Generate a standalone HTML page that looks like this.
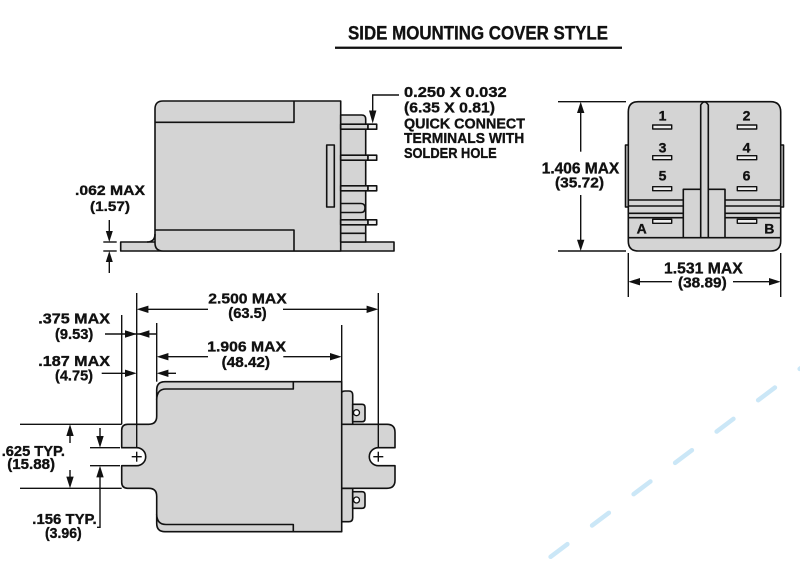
<!DOCTYPE html>
<html><head><meta charset="utf-8"><style>
html,body{margin:0;padding:0;background:#fff;}
svg{display:block;}
text{font-family:"Liberation Sans",Arial,sans-serif;font-weight:bold;fill:#111;stroke:#111;stroke-width:0.35px;}
</style></head><body>
<svg width="800" height="567" viewBox="0 0 800 567" xmlns="http://www.w3.org/2000/svg">
<!-- light blue dashed line -->
<line x1="550.6" y1="556.8" x2="830" y2="346" stroke="#cbe7f7" stroke-width="4.5" stroke-linecap="round" stroke-dasharray="21 31"/>

<!-- Title -->
<text x="348" y="39.3" font-size="19.5" textLength="260" lengthAdjust="spacingAndGlyphs">SIDE MOUNTING COVER STYLE</text>
<rect x="335" y="46.6" width="287" height="2.3" fill="#111"/>

<g stroke="#111" stroke-width="1.6" fill="#d4d4d4" stroke-linejoin="round">
<!-- ===== Side view (top-left) ===== -->
<rect x="120.7" y="242" width="273.3" height="9"/>
<path d="M155,109 Q155,101 163,101 L340.7,101 L340.7,251 L163,251 Q155,251 155,243 Z"/>
<path d="M147,242 Q155,242 155,234" fill="none"/>
<polyline points="155,122.3 294,122.3 294,101" fill="none"/>
<polyline points="155,230 294,230 294,251" fill="none"/>
<rect x="326.7" y="145" width="7.6" height="62"/>
<path d="M340.7,115 L361.7,115 Q365.7,115 365.7,119 L365.7,242 L340.7,242 Z"/>
<line x1="340.7" y1="233.3" x2="365.7" y2="233.3"/>
<path d="M340.7,203.5 L361,203.5 Q365,203.5 365,208 Q365,212.5 361,212.5 L340.7,212.5" fill="none"/>
<rect x="340.7" y="124.2" width="27.3" height="5"/>
<rect x="368" y="124.2" width="8.7" height="5" fill="#eeeeee"/>
<rect x="340.7" y="155.2" width="27.3" height="5"/>
<rect x="368" y="155.2" width="8.7" height="5" fill="#eeeeee"/>
<rect x="340.7" y="185.8" width="27.3" height="5"/>
<rect x="368" y="185.8" width="8.7" height="5" fill="#eeeeee"/>
<rect x="340.7" y="219.8" width="27.3" height="5"/>
<rect x="368" y="219.8" width="8.7" height="5" fill="#eeeeee"/>

<!-- ===== End view (top-right) ===== -->
<rect x="625.5" y="145" width="3.5" height="62"/>
<rect x="780" y="145" width="3.5" height="62"/>
<path d="M628.3,112 Q628.3,101.7 638.3,101.7 L770.7,101.7 Q780.7,101.7 780.7,112 L780.7,241 Q780.7,251 770.7,251 L638.3,251 Q628.3,251 628.3,241 Z"/>
<line x1="628.3" y1="237.7" x2="780.7" y2="237.7"/>
<g fill="none">
<line x1="628.3" y1="200" x2="683.3" y2="200"/><line x1="628.3" y1="206" x2="683.3" y2="206"/>
<line x1="628.3" y1="213.3" x2="683.3" y2="213.3"/><line x1="628.3" y1="217.7" x2="683.3" y2="217.7"/>
<line x1="725" y1="200" x2="780.7" y2="200"/><line x1="725" y1="206" x2="780.7" y2="206"/>
<line x1="725" y1="213.3" x2="780.7" y2="213.3"/><line x1="725" y1="217.7" x2="780.7" y2="217.7"/>
</g>
<rect x="683.3" y="189.3" width="41.7" height="48.4"/>
<path d="M700.7,237.7 L700.7,105 Q704.5,99 708.3,105 L708.3,237.7 Z"/>
<g fill="#eeeeee" stroke-width="1.4">
<rect x="652.7" y="125" width="19" height="4"/><rect x="652.7" y="155.7" width="19" height="4"/>
<rect x="652.7" y="186.7" width="19" height="4"/><rect x="652.7" y="219.3" width="19" height="4"/>
<rect x="737.3" y="125" width="19.4" height="4"/><rect x="737.3" y="155.7" width="19.4" height="4"/>
<rect x="737.3" y="186.7" width="19.4" height="4"/><rect x="737.3" y="219.3" width="19.4" height="4"/>
</g>

<!-- ===== Bottom view ===== -->
<path d="M341,424.3 L341,395 Q341,391 345,391 L349,391 Q352.7,391 352.7,395 L352.7,424.3 Z"/>
<path d="M341,488.3 L352.7,488.3 L352.7,517.7 Q352.7,521.7 348.7,521.7 L341,521.7 Z"/>
<path d="M352.7,404.3 L362,404.3 Q365,404.3 365,407.3 L365,418.7 Q365,421.7 362,421.7 L352.7,421.7 Z"/>
<path d="M352.7,491.7 L362,491.7 Q365,491.7 365,494.7 L365,505.3 Q365,508.3 362,508.3 L352.7,508.3 Z"/>
<circle cx="356.5" cy="412.7" r="3" fill="#fff" stroke-width="1.3"/>
<circle cx="356.5" cy="500" r="3" fill="#fff" stroke-width="1.3"/>
<path d="M341.7,424.3 L387,424.3 Q395,424.3 395,432.3 L395,447.7 L378.3,447.7 A9,9 0 0 0 378.3,465.7 L395,465.7 L395,480.3 Q395,488.3 387,488.3 L341.7,488.3 Z"/>
<path d="M165,381.7 L341.7,381.7 L341.7,531.7 L165,531.7 Q156.7,531.7 156.7,523.4 L156.7,496.3 Q156.7,488.3 148.7,488.3 L127.7,488.3 Q121.7,488.3 121.7,482.3 L121.7,465.7 L136.7,465.7 A9,9 0 0 0 136.7,447.7 L121.7,447.7 L121.7,430.3 Q121.7,424.3 127.7,424.3 L148.7,424.3 Q156.7,424.3 156.7,416.3 L156.7,390 Q156.7,381.7 165,381.7 Z"/>
<path d="M156.7,400 Q156.7,389 166,389 L293.3,389 L293.3,381.7" fill="none"/>
<path d="M156.7,514 Q156.7,524.5 166,524.5 L293.3,524.5 L293.3,531.7" fill="none"/>
</g>

<!-- numbers on end view -->
<g font-size="14" text-anchor="middle">
<text x="662.5" y="120.7">1</text><text x="662.5" y="152.3">3</text><text x="662.5" y="180.7">5</text>
<text x="746.5" y="120.7">2</text><text x="746.5" y="152.3">4</text><text x="746.5" y="180.7">6</text>
<text x="641.7" y="233.3">A</text><text x="769.3" y="233.3">B</text>
</g>

<!-- dimension lines -->
<g stroke="#111" stroke-width="1.4" fill="none">
<line x1="131.7" y1="456.7" x2="141.7" y2="456.7"/><line x1="136.7" y1="451.7" x2="136.7" y2="461.7"/>
<line x1="373.3" y1="456.7" x2="383.3" y2="456.7"/><line x1="378.3" y1="451.7" x2="378.3" y2="461.7"/>
<polyline points="399,95 372.7,95 372.7,112"/>
<line x1="103.3" y1="242" x2="116.7" y2="242"/><line x1="103.3" y1="251" x2="116.7" y2="251"/>
<line x1="109.3" y1="220" x2="109.3" y2="232"/><line x1="109.3" y1="260" x2="109.3" y2="273"/>
<line x1="558" y1="101.7" x2="626" y2="101.7"/><line x1="558" y1="251" x2="626" y2="251"/>
<line x1="580.7" y1="110" x2="580.7" y2="151.7"/><line x1="580.7" y1="195" x2="580.7" y2="242"/>
<line x1="628.3" y1="253" x2="628.3" y2="297"/><line x1="780.7" y1="253" x2="780.7" y2="297"/>
<line x1="637" y1="281.7" x2="672" y2="281.7"/><line x1="733" y1="281.7" x2="772" y2="281.7"/>
<line x1="136.7" y1="293" x2="136.7" y2="447.7"/><line x1="378.3" y1="293" x2="378.3" y2="447.7"/>
<line x1="145" y1="309.3" x2="208" y2="309.3"/><line x1="283" y1="309.3" x2="370" y2="309.3"/>
<line x1="156.7" y1="323" x2="156.7" y2="381.7"/><line x1="341.7" y1="325" x2="341.7" y2="381.7"/>
<line x1="165" y1="356.7" x2="208" y2="356.7"/><line x1="283.3" y1="356.7" x2="333" y2="356.7"/>
<line x1="121.7" y1="315" x2="121.7" y2="424.3"/>
<line x1="105" y1="334" x2="156.7" y2="334"/>
<line x1="101.7" y1="373.3" x2="128" y2="373.3"/><line x1="165" y1="373.3" x2="176" y2="373.3"/>
<line x1="20" y1="424.3" x2="121.7" y2="424.3"/><line x1="20" y1="488.3" x2="121.7" y2="488.3"/>
<line x1="70" y1="433" x2="70" y2="443"/><line x1="70" y1="470" x2="70" y2="480"/>
<line x1="90" y1="447.7" x2="120" y2="447.7"/><line x1="90" y1="465.7" x2="120" y2="465.7"/>
<line x1="100" y1="428" x2="100" y2="438"/><polyline points="97,527.3 100,527.3 100,475"/>
</g>

<!-- arrowheads -->
<g fill="#111">
<polygon points="372.7,123.5 369,110.5 376.4,110.5"/>
<polygon points="109.3,242 105.8,231 112.8,231"/>
<polygon points="109.3,251 105.8,262 112.8,262"/>
<polygon points="580.7,101.7 577,113 584.4,113"/>
<polygon points="580.7,251 577,239.7 584.4,239.7"/>
<polygon points="628.3,281.7 640,278 640,285.4"/>
<polygon points="780.7,281.7 769,278 769,285.4"/>
<polygon points="136.7,309.3 148.4,305.6 148.4,313"/>
<polygon points="378.3,309.3 366.6,305.6 366.6,313"/>
<polygon points="156.7,356.7 168.4,353 168.4,360.4"/>
<polygon points="341.7,356.7 330,353 330,360.4"/>
<polygon points="136.7,334 125,330.3 125,337.7"/>
<polygon points="137.7,334 149.4,330.3 149.4,337.7"/>
<polygon points="136.7,373.3 125,369.6 125,377"/>
<polygon points="156.7,373.3 168.4,369.6 168.4,377"/>
<polygon points="70,424.3 66.3,436 73.7,436"/>
<polygon points="70,488.3 66.3,476.6 73.7,476.6"/>
<polygon points="100,447.7 96.3,436 103.7,436"/>
<polygon points="100,465.7 96.3,477.4 103.7,477.4"/>
</g>

<!-- labels -->
<g font-size="15">
<text x="404" y="97" textLength="102.7" lengthAdjust="spacingAndGlyphs">0.250 X 0.032</text>
<text x="404" y="112.3" textLength="91" lengthAdjust="spacingAndGlyphs">(6.35 X 0.81)</text>
<text x="404" y="128.5" textLength="121" lengthAdjust="spacingAndGlyphs">QUICK CONNECT</text>
<text x="404" y="143" textLength="120.3" lengthAdjust="spacingAndGlyphs">TERMINALS WITH</text>
<text x="404" y="158" textLength="92.7" lengthAdjust="spacingAndGlyphs">SOLDER HOLE</text>

<text x="75" y="195" font-size="14" textLength="70" lengthAdjust="spacingAndGlyphs">.062 MAX</text>
<text x="90" y="211" font-size="14" textLength="40" lengthAdjust="spacingAndGlyphs">(1.57)</text>

<text x="541.7" y="173.3" font-size="15.5" textLength="77.6" lengthAdjust="spacingAndGlyphs">1.406 MAX</text>
<text x="555" y="187.5" textLength="49" lengthAdjust="spacingAndGlyphs">(35.72)</text>
<text x="664" y="273.3" font-size="15.5" textLength="78.7" lengthAdjust="spacingAndGlyphs">1.531 MAX</text>
<text x="678" y="287.5" textLength="48.7" lengthAdjust="spacingAndGlyphs">(38.89)</text>

<text x="208.3" y="303.3" textLength="78.4" lengthAdjust="spacingAndGlyphs">2.500 MAX</text>
<text x="228.3" y="318" textLength="38.4" lengthAdjust="spacingAndGlyphs">(63.5)</text>
<text x="207.3" y="351.7" textLength="78.7" lengthAdjust="spacingAndGlyphs">1.906 MAX</text>
<text x="221.7" y="367" textLength="48.3" lengthAdjust="spacingAndGlyphs">(48.42)</text>

<text x="38.3" y="323.3" textLength="71.7" lengthAdjust="spacingAndGlyphs">.375 MAX</text>
<text x="55" y="339" textLength="38.3" lengthAdjust="spacingAndGlyphs">(9.53)</text>
<text x="38.3" y="366" textLength="71.7" lengthAdjust="spacingAndGlyphs">.187 MAX</text>
<text x="55" y="380.5" textLength="38" lengthAdjust="spacingAndGlyphs">(4.75)</text>

<text x="1.7" y="456" textLength="63.3" lengthAdjust="spacingAndGlyphs">.625 TYP.</text>
<text x="7.3" y="469" textLength="47.7" lengthAdjust="spacingAndGlyphs">(15.88)</text>
<text x="32.3" y="524" textLength="64.4" lengthAdjust="spacingAndGlyphs">.156 TYP.</text>
<text x="45" y="538" textLength="36.7" lengthAdjust="spacingAndGlyphs">(3.96)</text>
</g>
</svg>
</body></html>
